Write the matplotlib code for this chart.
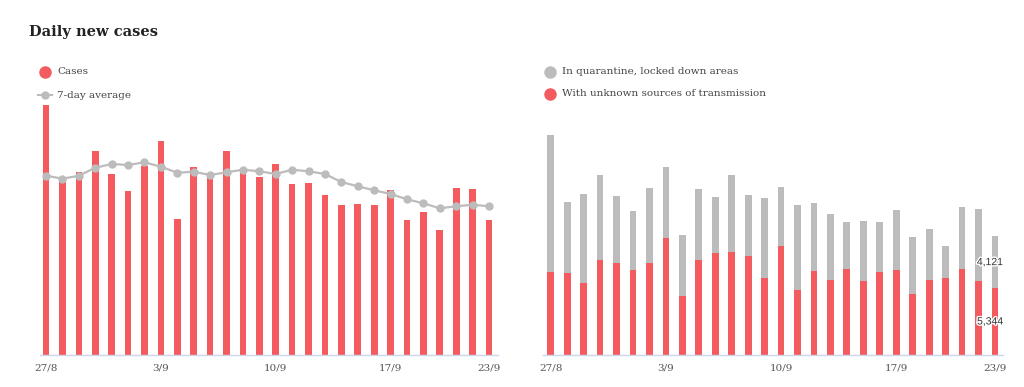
import matplotlib.pyplot as plt
import matplotlib.patheffects as pe
from matplotlib.lines import Line2D
import numpy as np

# dates 27/8 -> 23/9
dates = ["27/8", "28/8", "29/8", "30/8", "31/8", "1/9", "2/9", "3/9", "4/9", "5/9",
         "6/9", "7/9", "8/9", "9/9", "10/9", "11/9", "12/9", "13/9", "14/9", "15/9",
         "16/9", "17/9", "18/9", "19/9", "20/9", "21/9", "22/9", "23/9"]
tick_labels = ["27/8", "3/9", "10/9", "17/9", "23/9"]

cases = [17500, 12250, 12790, 14280, 12670, 11480, 13250, 14980, 9520, 13180,
         12480, 14280, 12740, 12480, 13370, 11970, 12040, 11220, 10520, 10590,
         10520, 11530, 9430, 10030, 8750, 11710, 11600, 9465]
avg7 = [12550, 12340, 12550, 13110, 13370, 13300, 13490, 13180, 12760, 12830,
        12600, 12790, 12970, 12860, 12670, 12970, 12860, 12670, 12110, 11810,
        11530, 11270, 10900, 10620, 10270, 10410, 10520, 10410]

unknown = [6640, 6535, 5740, 7570, 7310, 6800, 7310, 9350, 4700, 7600,
           8150, 8230, 7890, 6160, 8710, 5180, 6670, 5980, 6830, 5900,
           6620, 6750, 4890, 5980, 6160, 6880, 5870, 5344]
quarantine = [10900, 5660, 7090, 6750, 5390, 4680, 5980, 5630, 4860, 5610,
              4420, 6090, 4890, 6330, 4700, 6800, 5470, 5280, 3750, 4760,
              3960, 4810, 4540, 4090, 2550, 4890, 5760, 4121]

RED = "#f45b5f"
GRAY = "#bcbcbc"
AXIS = "#ccd6eb"
TXT = "#333333"
W, H = 1024, 387


def px(x, y):
    # pixel coords (top-left origin) -> figure fraction
    return x / W, 1 - y / H


def style_axis(ax, x):
    for s in ["top", "right", "left"]:
        ax.spines[s].set_visible(False)
    ax.spines["bottom"].set_color(AXIS)
    ax.spines["bottom"].set_linewidth(1)
    ax.set_yticks([])
    idx = [dates.index(t) for t in tick_labels]
    ax.set_xticks(x[idx])
    ax.set_xticklabels(tick_labels, family="DejaVu Serif", fontsize=7.5, color="#555555")
    ax.tick_params(axis="x", length=0, pad=6)


def legend_entry(fig, x, y, label, kind, color):
    fx, fy = px(x, y)
    if kind == "dot":
        fig.add_artist(Line2D([fx], [fy], marker="o", markersize=8, color=color,
                              transform=fig.transFigure))
    else:
        fig.add_artist(Line2D([fx - 7 / W, fx + 7 / W], [fy, fy], lw=1.5, color=color,
                              transform=fig.transFigure))
        fig.add_artist(Line2D([fx], [fy], marker="o", markersize=5, color=color,
                              transform=fig.transFigure))
    tx, ty = px(x + 12, y)
    fig.text(tx, ty, label, family="DejaVu Serif", fontsize=7.5, color="#444444", va="center")


def main():
    fig = plt.figure(figsize=(W / 100, H / 100), dpi=100)
    x = np.arange(len(dates))

    fig.text(*px(29, 32), "Daily new cases", family="DejaVu Serif", fontweight="bold",
             fontsize=10.5, color="#222222", va="center")

    # left: daily cases + 7 day average
    ax1 = fig.add_axes([40 / W, 32 / H, 458 / W, 255 / H])
    ax1.bar(x, cases, width=0.41, color=RED, zorder=2)
    ax1.plot(x, avg7, color=GRAY, lw=1.6, marker="o", markersize=5, zorder=3)
    ax1.set_xlim(-0.37, 27.55)
    ax1.set_ylim(0, 255 * 70)
    style_axis(ax1, x)

    # right: stacked sources
    ax2 = fig.add_axes([543 / W, 32 / H, 460 / W, 255 / H])
    ax2.bar(x, unknown, width=0.41, color=RED, zorder=2)
    ax2.bar(x, quarantine, bottom=unknown, width=0.41, color=GRAY, zorder=2)
    ax2.set_xlim(-0.47, 27.49)
    ax2.set_ylim(0, 255 * 79.7)
    style_axis(ax2, x)

    # data labels on the last bar
    halo = [pe.withStroke(linewidth=2, foreground="white")]
    last = len(dates) - 1
    ax2.text(last - 0.3, unknown[last] / 2, f"{unknown[last]:,}", ha="center", va="center",
             family="Liberation Sans", fontsize=7.5, color=TXT, path_effects=halo, zorder=4)
    ax2.text(last - 0.3, unknown[last] + quarantine[last] / 2, f"{quarantine[last]:,}",
             ha="center", va="center", family="Liberation Sans", fontsize=7.5, color=TXT,
             path_effects=halo, zorder=4)

    legend_entry(fig, 45, 72, "Cases", "dot", RED)
    legend_entry(fig, 45, 95, "7-day average", "line", GRAY)
    legend_entry(fig, 550, 72, "In quarantine, locked down areas", "dot", GRAY)
    legend_entry(fig, 550, 94, "With unknown sources of transmission", "dot", RED)

    fig.savefig("out.png", dpi=100, facecolor="white")


if __name__ == "__main__": main()
